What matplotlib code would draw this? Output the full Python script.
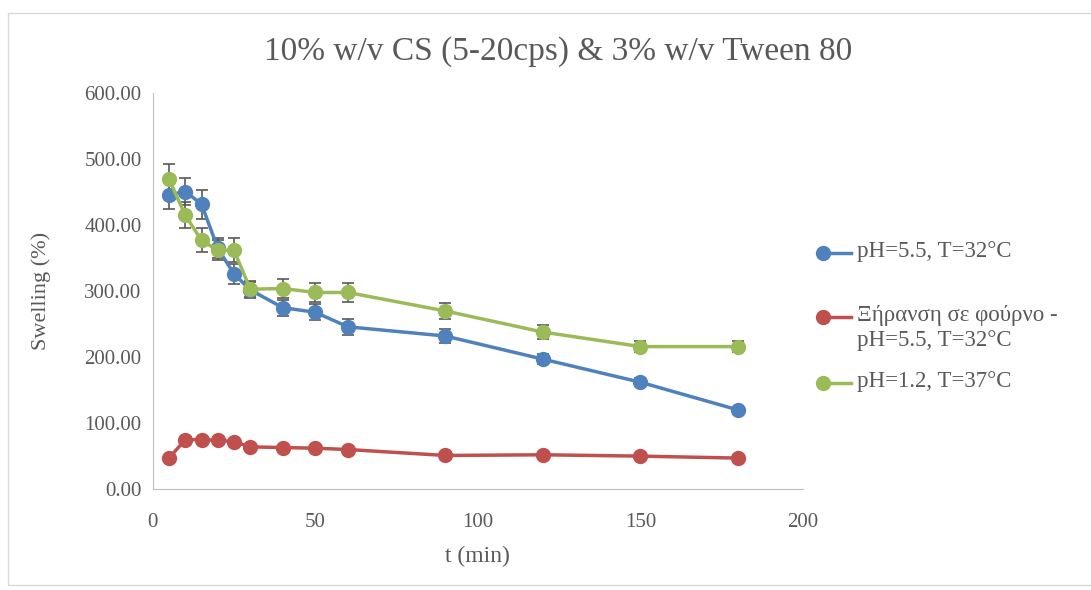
import numpy as np
import matplotlib.pyplot as plt
from matplotlib.patches import Rectangle
from matplotlib.lines import Line2D

plt.rcParams['font.family'] = ['Liberation Serif', 'DejaVu Serif']

t = [5, 10, 15, 20, 25, 30, 40, 50, 60, 90, 120, 150, 180]

blue = [446, 451, 432, 365, 326, 302, 275, 268, 246, 232, 197, 162, 120]
blue_err = [22, 20, 22, 15, 15, 12, 12, 12, 12, 10, 8, 6, 4]

red = [47, 75, 75, 74, 72, 64, 63, 62, 60, 51, 52, 50, 47]

green = [470, 415, 377, 362, 362, 303, 304, 298, 298, 270, 238, 216, 216]
green_err = [23, 20, 18, 15, 18, 12, 14, 14, 14, 12, 10, 8, 8]

labels = ['pH=5.5, T=32°C', 'Ξήρανση σε φούρνο -\npH=5.5, T=32°C', 'pH=1.2, T=37°C']
colors = ['#4F81BD', '#C0504D', '#9BBB59']

W, H = 1091, 590
txt = '#595959'
fig = plt.figure(figsize=(W / 100, H / 100), dpi=100)
fig.patches.append(Rectangle((8 / W, 5 / H), 1, 1 - 18 / H, transform=fig.transFigure,
                             fill=False, edgecolor='#D9D9D9', lw=1))
ax = fig.add_axes([0.140, 0.171, 0.596, 0.671])

ekw = dict(ecolor='#595959', elinewidth=1.2, capsize=4, capthick=1.2, zorder=4)
ax.errorbar(t, blue, yerr=blue_err, color=colors[0], marker='o', ms=10, lw=2.5, **ekw)
ax.plot(t, red, color=colors[1], marker='o', ms=10, lw=2.5, zorder=3)
ax.errorbar(t, green, yerr=green_err, color=colors[2], marker='o', ms=10, lw=2.5, **ekw)

ax.set_xlim(0, 200)
ax.set_ylim(0, 600)
ax.set_xticks([0, 50, 100, 150, 200])
ax.set_yticks(np.arange(0, 601, 100))
ax.set_yticklabels(['%.2f' % v for v in np.arange(0, 601, 100)])
for s in ['top', 'right']:
    ax.spines[s].set_visible(False)
for s in ['left', 'bottom']:
    ax.spines[s].set_color('#BFBFBF')
ax.tick_params(length=0, labelsize=15, colors=txt)
ax.tick_params(axis='x', pad=17)
ax.tick_params(axis='y', pad=8)

ax.set_xlabel('t (min)', fontsize=17, color=txt, labelpad=10)
ax.set_ylabel('Swelling (%)', fontsize=16, color=txt, labelpad=24)
fig.text(558 / W, 1 - 52 / H, '10% w/v CS (5-20cps) & 3% w/v Tween 80', fontsize=24,
         color=txt, ha='center', va='center')

# legend drawn by hand, Excel style (marker at the left end of the line)
leg_y = [253, 317, 383]
for c, lab, y in zip(colors, labels, leg_y):
    yf = 1 - y / H
    fig.add_artist(Line2D([823 / W, 851 / W], [yf, yf], color=c, lw=2.5))
    fig.add_artist(Line2D([823 / W], [yf], color=c, marker='o', ms=10))
    fig.text(857 / W, yf + 12 / H, lab, fontsize=16.5, color=txt, ha='left', va='top',
             linespacing=1.25)

fig.savefig('out.png', dpi=100)
